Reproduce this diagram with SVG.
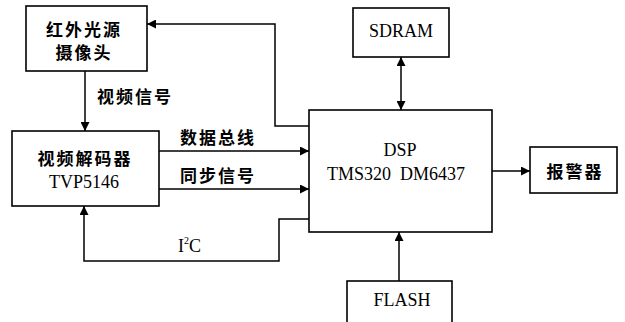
<svg xmlns="http://www.w3.org/2000/svg" width="625" height="322" viewBox="0 0 625 322">
<style>
.box{fill:#fff;stroke:#000;stroke-width:1.6}
.ln{fill:none;stroke:#000;stroke-width:1.5}
.cjk{font-family:"Noto Sans CJK SC","Noto Sans",sans-serif;font-weight:bold;font-size:17px;letter-spacing:2px;fill:#000}
.lat{font-family:"Liberation Serif","Times New Roman",serif;font-size:18px;fill:#000}
</style>
<defs>
<marker id="ah" viewBox="0 0 10 10" refX="10" refY="5" markerWidth="9" markerHeight="9" markerUnits="userSpaceOnUse" orient="auto-start-reverse">
<path d="M0,0 L10,5 L0,10 z" fill="#000"/>
</marker>
</defs>
<rect width="625" height="322" fill="#fff"/>
<g id="connectors">
<path class="ln" d="M85,71 V131" marker-end="url(#ah)"/>
<path class="ln" d="M309,126 H275 V24 H147" marker-end="url(#ah)"/>
<path class="ln" d="M159,151 H309" marker-end="url(#ah)"/>
<path class="ln" d="M159,189 H309" marker-end="url(#ah)"/>
<path class="ln" d="M309,219 H279 V261 H84 V206" marker-end="url(#ah)"/>
<path class="ln" d="M401,57 V110" marker-start="url(#ah)" marker-end="url(#ah)"/>
<path class="ln" d="M399,281 V232" marker-end="url(#ah)"/>
<path class="ln" d="M492,171 H530" marker-end="url(#ah)"/>
<text class="cjk" x="97" y="103">视频信号</text>
<text class="cjk" x="180" y="144">数据总线</text>
<text class="cjk" x="180" y="182">同步信号</text>
<text class="lat" x="178" y="252">I<tspan font-size="10" dy="-8">2</tspan><tspan dy="8">C</tspan></text>
</g>
<g id="camera">
<rect class="box" x="26" y="6" width="121" height="65"/>
<text class="cjk" x="84" y="36" text-anchor="middle">红外光源</text>
<text class="cjk" x="84" y="59" text-anchor="middle">摄像头</text>
</g>
<g id="decoder">
<rect class="box" x="12" y="131" width="147" height="75"/>
<text class="cjk" x="85" y="165" text-anchor="middle">视频解码器</text>
<text class="lat" x="84" y="188" text-anchor="middle">TVP5146</text>
</g>
<g id="dsp">
<rect class="box" x="309" y="110" width="183" height="122"/>
<text class="lat" x="400" y="156" text-anchor="middle">DSP</text>
<text class="lat" x="396" y="180" text-anchor="middle" xml:space="preserve">TMS320  DM6437</text>
</g>
<g id="sdram">
<rect class="box" x="353" y="8" width="96" height="49"/>
<text class="lat" x="401" y="37" text-anchor="middle">SDRAM</text>
</g>
<g id="flash">
<rect class="box" x="347" y="281" width="105" height="50"/>
<text class="lat" x="402" y="306" text-anchor="middle">FLASH</text>
</g>
<g id="alarm">
<rect class="box" x="530" y="147" width="87" height="46"/>
<text class="cjk" x="575" y="178" text-anchor="middle">报警器</text>
</g>
</svg>
